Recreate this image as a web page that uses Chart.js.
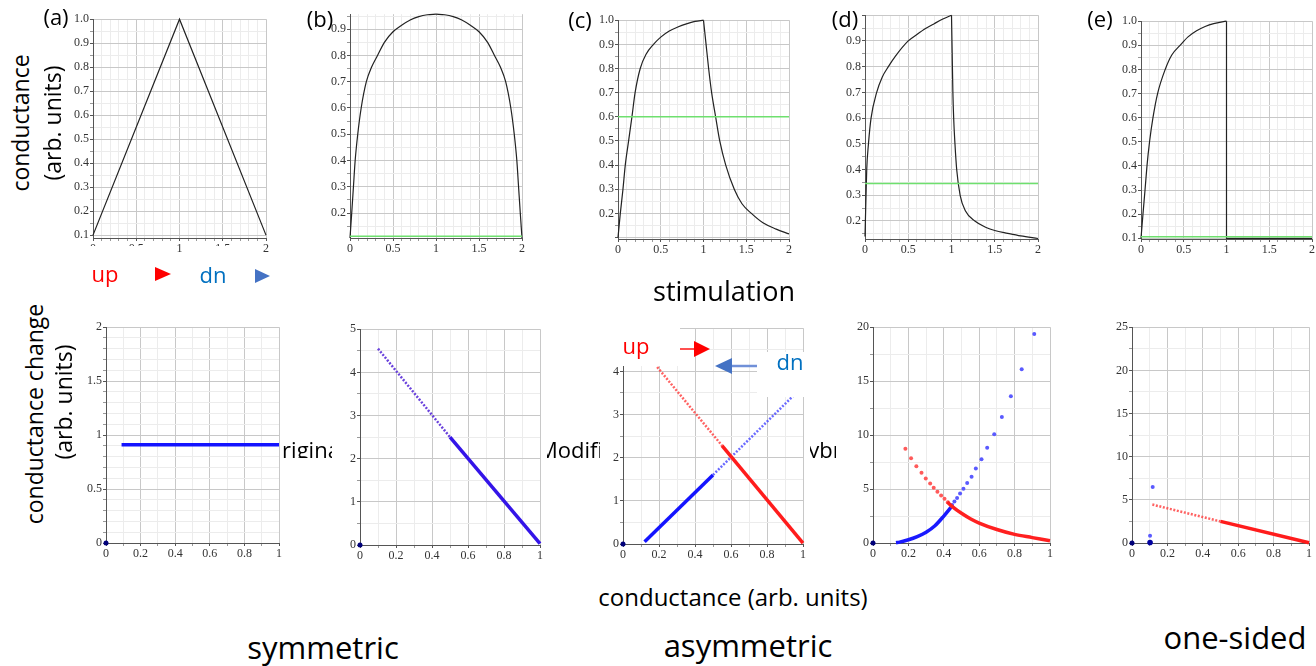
<!DOCTYPE html>
<html>
<head>
<meta charset="utf-8">
<script src="https://cdn.jsdelivr.net/npm/chart.js@4.4.0/dist/chart.umd.min.js"></script>
<style>
  html, body { margin: 0; padding: 0; background: #fff; overflow: hidden; }
  body { width: 1316px; height: 666px; position: relative; font-family: 'Open Sans', sans-serif; }
  canvas { position: absolute; }
  .t { position: absolute; white-space: nowrap; line-height: 1; transform: translate(-50%, -50%); color: #000; }
  .r { transform: translate(-50%, -50%) rotate(-90deg); }
  .cover { position: absolute; background: #fff; }
  .clip { position: absolute; overflow: hidden; }
  .clip span { position: absolute; white-space: nowrap; line-height: 1; font-size: 22px; }
  svg { position: absolute; left: 0; top: 0; }
</style>
</head>
<body>
<script>
// ---- tick labels ----
const topXLabels = ['0', '0.5', '1', '1.5', '2'];
const topYLabelsA = ['0.1', '0.2', '0.3', '0.4', '0.5', '0.6', '0.7', '0.8', '0.9', '1.0'];
const topYLabelsB = ['0.2', '0.3', '0.4', '0.5', '0.6', '0.7', '0.8', '0.9'];
const topYLabelsC = ['0.2', '0.3', '0.4', '0.5', '0.6', '0.7', '0.8', '0.9', '1.0'];
const topYLabelsD = ['0.2', '0.3', '0.4', '0.5', '0.6', '0.7', '0.8', '0.9'];
const topYLabelsE = ['0.1', '0.2', '0.3', '0.4', '0.5', '0.6', '0.7', '0.8', '0.9', '1.0'];
const botXLabels = ['0', '0.2', '0.4', '0.6', '0.8', '1'];
const botYLabelsA = ['0', '0.5', '1', '1.5', '2'];
const botYLabelsB = ['0', '1', '2', '3', '4', '5'];
const botYLabelsC = ['0', '1', '2', '3', '4'];
const botYLabelsD = ['0', '5', '10', '15', '20'];
const botYLabelsE = ['0', '5', '10', '15', '20', '25'];

// ---- top row: conductance vs stimulation ----
const aX = [0, 1, 2];
const aY = [0.1, 1.0, 0.1];

const bUpX = [0, 0.02, 0.04, 0.06, 0.09, 0.13, 0.19, 0.25, 0.32, 0.4, 0.5, 0.6, 0.7, 0.8, 0.9, 1.0];
const bUpY = [0.105, 0.2, 0.3, 0.4, 0.5, 0.6, 0.7, 0.755, 0.8, 0.85, 0.89, 0.915, 0.935, 0.948, 0.955, 0.957];
const bDnX = [1.0, 1.1, 1.2, 1.3, 1.4, 1.5, 1.6, 1.68, 1.75, 1.81, 1.87, 1.91, 1.94, 1.96, 1.98, 2.0];
const bDnY = [0.957, 0.955, 0.948, 0.935, 0.915, 0.89, 0.85, 0.8, 0.755, 0.7, 0.6, 0.5, 0.4, 0.3, 0.2, 0.105];
const bGreen = 0.112;

const cUpX = [0, 0.027, 0.058, 0.085, 0.124, 0.163, 0.2, 0.26, 0.33, 0.415, 0.5, 0.6, 0.7, 0.8, 0.9, 1.0];
const cUpY = [0.1, 0.2, 0.3, 0.4, 0.5, 0.6, 0.7, 0.8, 0.86, 0.9, 0.93, 0.955, 0.972, 0.985, 0.995, 1.0];
const cDnX = [1.0, 1.03, 1.06, 1.095, 1.142, 1.19, 1.26, 1.36, 1.45, 1.56, 1.7, 1.85, 2.0];
const cDnY = [1.0, 0.9, 0.8, 0.7, 0.6, 0.5, 0.4, 0.3, 0.24, 0.2, 0.16, 0.135, 0.115];
const cGreen = 0.6;

const dUpX = [0, 0.012, 0.02, 0.04, 0.07, 0.135, 0.2, 0.27, 0.35, 0.5, 0.6, 0.7, 0.8, 0.9, 1.0];
const dUpY = [0.14, 0.3, 0.4, 0.5, 0.6, 0.7, 0.76, 0.8, 0.84, 0.9, 0.925, 0.948, 0.967, 0.985, 1.0];
const dDnX = [1.0, 1.008, 1.016, 1.025, 1.04, 1.06, 1.1, 1.16, 1.27, 1.4, 1.5, 1.65, 1.8, 2.0];
const dDnY = [1.0, 0.85, 0.7, 0.6, 0.5, 0.4, 0.3, 0.24, 0.2, 0.175, 0.163, 0.152, 0.142, 0.132];
const dGreen = 0.346;

const eUpX = [0, 0.023, 0.047, 0.07, 0.1, 0.14, 0.194, 0.283, 0.36, 0.457, 0.55, 0.65, 0.75, 0.85, 1.0];
const eUpY = [0.1, 0.2, 0.3, 0.4, 0.5, 0.6, 0.7, 0.8, 0.86, 0.9, 0.935, 0.96, 0.978, 0.99, 1.0];
const eDnX = [1.0, 1.0, 2.0];
const eDnY = [1.0, 0.1, 0.1];
const eGreen = 0.106;

// ---- bottom row: conductance change vs conductance ----
const originX = [0];
const originY = [0];

const baX = [0.09, 1.0];
const baY = [0.91, 0.91];

const bbSparseX = [0.1, 0.5];
const bbSparseY = [4.55, 2.5];
const bbDenseX = [0.5, 1.0];
const bbDenseY = [2.5, 0.03];

const bcRedSparseX = [0.19, 0.55];
const bcRedSparseY = [4.1, 2.28];
const bcRedDenseX = [0.55, 1.0];
const bcRedDenseY = [2.28, 0.02];
const bcBlueDenseX = [0.12, 0.5];
const bcBlueDenseY = [0.05, 1.6];
const bcBlueSparseX = [0.5, 0.95];
const bcBlueSparseY = [1.6, 3.45];

const bdBlueDenseX = [0.13, 0.15, 0.2, 0.25, 0.3, 0.35, 0.4, 0.44];
const bdBlueDenseY = [0.02, 0.08, 0.3, 0.6, 1.0, 1.6, 2.5, 3.3];
const bdBlueDotsX = [0.911, 0.840, 0.779, 0.728, 0.685, 0.645, 0.613, 0.581, 0.557, 0.532, 0.511, 0.492, 0.475, 0.460, 0.447];
const bdBlueDotsY = [19.38, 16.10, 13.59, 11.67, 10.09, 8.82, 7.77, 6.90, 6.13, 5.57, 5.02, 4.58, 4.18, 3.84, 3.53];
const bdRedDotsX = [0.183, 0.215, 0.245, 0.274, 0.298, 0.323, 0.343, 0.364, 0.385, 0.404, 0.423];
const bdRedDotsY = [8.73, 7.86, 7.12, 6.50, 5.98, 5.51, 5.11, 4.74, 4.40, 4.09, 3.78];
const bdRedDenseX = [0.42, 0.45, 0.5, 0.55, 0.6, 0.7, 0.8, 0.9, 1.0];
const bdRedDenseY = [3.8, 3.35, 2.75, 2.25, 1.85, 1.25, 0.8, 0.5, 0.2];

const beRedSparseX = [0.115, 0.5];
const beRedSparseY = [4.45, 2.5];
const beRedDenseX = [0.5, 1.0];
const beRedDenseY = [2.5, 0.03];
const beBlueDotsX = [0.117, 0.102];
const beBlueDotsY = [6.5, 0.85];
const beBlueBigX = [0.102];
const beBlueBigY = [0.05];

// ---- helpers ----
const tickFont = { family: "'Liberation Serif', serif", size: 12 };

function buildTicks(min, max, labels, majorStep, minor) {
  const out = [];
  const start = Math.ceil(min / minor - 1e-6);
  for (let k = start; k * minor <= max + 1e-9; k++) {
    const v = +(k * minor).toFixed(6);
    const r = v / majorStep;
    const mj = Math.abs(r - Math.round(r)) < 1e-6;
    const li = labels.findIndex(s => Math.abs(parseFloat(s) - v) < 1e-6);
    out.push({ value: v, mj: mj, lab: li >= 0 ? labels[li] : '' });
  }
  return out;
}

function axis(pos, min, max, labels, majorStep, minor, size) {
  return {
    type: 'linear', position: pos, min: min, max: max,
    afterBuildTicks: s => { s.ticks = buildTicks(min, max, labels, majorStep, minor); },
    afterFit: s => { if (pos === 'left') s.width = size; else s.height = size; },
    ticks: {
      autoSkip: false, maxRotation: 0, font: tickFont, color: '#333', padding: 1,
      callback: (v, i, ts) => ts[i].lab
    },
    grid: {
      color: c => (c.tick && c.tick.mj) ? '#c8c8c8' : '#ececec',
      tickColor: c => (c.tick && c.tick.mj) ? '#555' : '#999',
      tickLength: 3, lineWidth: 1
    },
    border: { color: '#555', width: 1 }
  };
}

function pts(xs, ys) { return xs.map((x, i) => ({ x: x, y: ys[i] })); }

function line(xs, ys, color, width, opts) {
  return Object.assign({
    data: pts(xs, ys), showLine: true, borderColor: color, borderWidth: width,
    pointRadius: 0, tension: 0, clip: false
  }, opts || {});
}

function dots(xs, ys, color, r) {
  return {
    data: pts(xs, ys), showLine: false, pointRadius: r, pointBackgroundColor: color,
    pointBorderWidth: 0, clip: false
  };
}

function plot(box, xa, ya, datasets) {
  const yw = 30, xh = 18, pt = 8, pr = 8;
  const cv = document.createElement('canvas');
  const w = box.R - box.L + yw + pr, h = box.B - box.T + pt + xh;
  cv.width = w; cv.height = h;
  cv.style.left = (box.L - yw) + 'px';
  cv.style.top = (box.T - pt) + 'px';
  cv.style.width = w + 'px';
  cv.style.height = h + 'px';
  document.body.appendChild(cv);
  new Chart(cv, {
    type: 'scatter',
    data: { datasets: datasets },
    options: {
      responsive: false, animation: false, events: [],
      layout: { padding: { top: pt, right: pr, left: 0, bottom: 0 } },
      plugins: { legend: { display: false }, tooltip: { enabled: false } },
      scales: {
        x: axis('bottom', xa[0], xa[1], xa[2], xa[3], xa[4], xh),
        y: axis('left', ya[0], ya[1], ya[2], ya[3], ya[4], yw)
      }
    }
  });
}

const curve = (xs, ys) => line(xs, ys, '#222', 1.2, { cubicInterpolationMode: 'monotone' });
const green = (v) => line([0, 2], [v, v], '#6ee06e', 1.5);
const topX = [0, 2, topXLabels, 0.5, 0.1];

// ---- top row ----
plot({ L: 93, R: 266, T: 19, B: 238 }, topX, [0.088, 1.0, topYLabelsA, 0.1, 0.05],
  [line(aX, aY, '#222', 1.2)]);
plot({ L: 350, R: 522, T: 14, B: 238 }, topX, [0.105, 0.957, topYLabelsB, 0.1, 0.05],
  [green(bGreen), curve(bUpX, bUpY), curve(bDnX, bDnY)]);
plot({ L: 618, R: 789, T: 20, B: 239 }, topX, [0.094, 1.0, topYLabelsC, 0.1, 0.05],
  [green(cGreen), curve(cUpX, cUpY), curve(cDnX, cDnY)]);
plot({ L: 865, R: 1038, T: 15, B: 239 }, topX, [0.13, 1.0, topYLabelsD, 0.1, 0.05],
  [green(dGreen), curve(dUpX, dUpY), curve(dDnX, dDnY)]);
plot({ L: 1141, R: 1312, T: 21, B: 239 }, topX, [0.097, 1.0, topYLabelsE, 0.1, 0.05],
  [green(eGreen), curve(eUpX, eUpY), line(eDnX, eDnY, '#222', 1.2)]);

// ---- bottom row ----
const botX = [0, 1, botXLabels, 0.2, 0.1];
const origin = () => dots(originX, originY, '#00007a', 2.5);
const sparse = (xs, ys, c) => line(xs, ys, c, 2.5, { borderDash: [2, 1.6] });

plot({ L: 106, R: 279, T: 327, B: 543 }, botX, [0, 2, botYLabelsA, 0.5, 0.1],
  [line(baX, baY, '#1414ff', 3.5), origin()]);
plot({ L: 360, R: 540, T: 329, B: 545 }, botX, [0, 5, botYLabelsB, 1, 0.5],
  [sparse(bbSparseX, bbSparseY, '#6a42dc'), line(bbDenseX, bbDenseY, '#3414e8', 3.5), origin()]);
plot({ L: 623, R: 803, T: 328, B: 544 }, botX, [0, 5, botYLabelsC, 1, 0.5],
  [sparse(bcRedSparseX, bcRedSparseY, 'rgba(255,70,70,0.85)'), line(bcRedDenseX, bcRedDenseY, '#ff1c1c', 3.5),
   line(bcBlueDenseX, bcBlueDenseY, '#1414ff', 3.5), sparse(bcBlueSparseX, bcBlueSparseY, 'rgba(80,80,255,0.85)'), origin()]);
plot({ L: 873, R: 1050, T: 327, B: 543 }, botX, [0, 20, botYLabelsD, 5, 2.5],
  [line(bdRedDenseX, bdRedDenseY, '#ff2020', 3.5, { cubicInterpolationMode: 'monotone' }),
   dots(bdRedDotsX, bdRedDotsY, '#ff5a5a', 2),
   line(bdBlueDenseX, bdBlueDenseY, '#1a1aff', 3.5, { cubicInterpolationMode: 'monotone' }),
   dots(bdBlueDotsX, bdBlueDotsY, '#5a5aff', 2), origin()]);
plot({ L: 1132, R: 1309, T: 327, B: 543 }, botX, [0, 25, botYLabelsE, 5, 2.5],
  [sparse(beRedSparseX, beRedSparseY, 'rgba(255,70,70,0.85)'), line(beRedDenseX, beRedDenseY, '#ff1c1c', 3.5),
   dots(beBlueDotsX, beBlueDotsY, '#5a5aff', 2), dots(beBlueBigX, beBlueBigY, '#0000a0', 2.8), origin()]);

// ---- covers, text, arrows ----
function cover(x, y, w, h) {
  const d = document.createElement('div');
  d.className = 'cover';
  Object.assign(d.style, { left: x + 'px', top: y + 'px', width: w + 'px', height: h + 'px' });
  document.body.appendChild(d);
}
function text(s, cx, cy, size, color, rot) {
  const d = document.createElement('div');
  d.className = 't' + (rot ? ' r' : '');
  d.textContent = s;
  Object.assign(d.style, { left: cx + 'px', top: cy + 'px', fontSize: size + 'px', color: color || '#000' });
  document.body.appendChild(d);
}
function clipped(s, x, y, w, h, offX, offY) {
  const d = document.createElement('div');
  d.className = 'clip';
  Object.assign(d.style, { left: x + 'px', top: y + 'px', width: w + 'px', height: h + 'px' });
  const sp = document.createElement('span');
  sp.textContent = s;
  Object.assign(sp.style, { left: offX + 'px', top: offY + 'px' });
  d.appendChild(sp);
  document.body.appendChild(d);
}

cover(85, 246, 87, 18);
cover(187, 246, 72, 18);
cover(600, 300, 80, 66);
cover(757, 352, 50, 45);

text('(a)', 56, 16, 22);
text('(b)', 320, 18, 22);
text('(c)', 580, 19, 22);
text('(d)', 845, 18, 22);
text('(e)', 1100, 18, 22);

text('conductance', 20, 123, 23, '#000', true);
text('(arb. units)', 52, 123, 23, '#000', true);
text('conductance change', 34, 414, 23, '#000', true);
text('(arb. units)', 63, 402, 23, '#000', true);

text('up', 105, 273, 22, '#ff0000');
text('dn', 213, 274, 22, '#0070c0');
text('stimulation', 724, 290, 27);

text('up', 636, 345, 22, '#ff0000');
text('dn', 790, 361, 22, '#0070c0');

clipped('Original', 283, 438, 49, 20, -18, 0);
clipped('Modified', 547, 438, 53, 20, -9, 0);
clipped('Hybrid', 810, 438, 26, 20, -18, 0);

text('conductance (arb. units)', 733, 597, 24);
text('symmetric', 323, 647, 31);
text('asymmetric', 748, 645, 31);
text('one-sided', 1235, 637, 31);

const svgNS = 'http://www.w3.org/2000/svg';
const svg = document.createElementNS(svgNS, 'svg');
svg.setAttribute('width', 1316); svg.setAttribute('height', 666);
svg.innerHTML =
  '<polygon points="155,267 171,274 155,281" fill="#ff0000"/>' +
  '<polygon points="255,269 270,276 255,283" fill="#4472c4"/>' +
  '<line x1="680" y1="349" x2="697" y2="349" stroke="#ff5050" stroke-width="2"/>' +
  '<polygon points="694,341 710,349 694,357" fill="#ff0000"/>' +
  '<line x1="757" y1="366" x2="729" y2="366" stroke="#7090d8" stroke-width="2.5"/>' +
  '<polygon points="732,358 715,366 732,374" fill="#4472c4"/>';
document.body.appendChild(svg);
</script>
</body>
</html>
